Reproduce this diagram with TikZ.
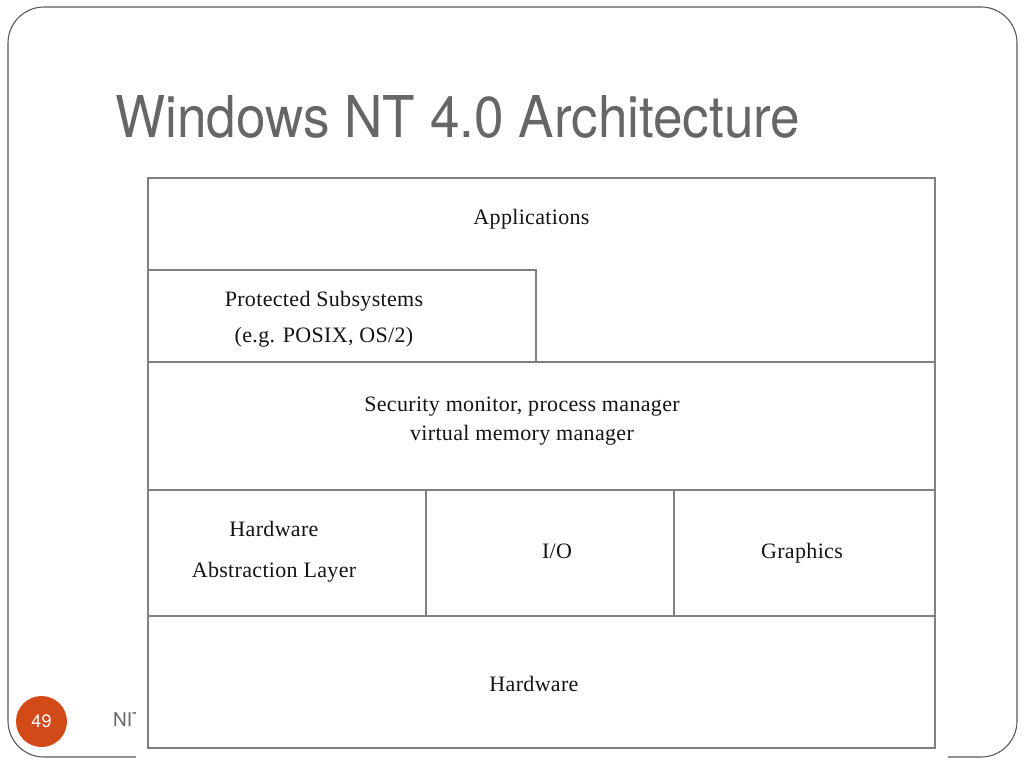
\documentclass[tikz,border=0pt]{standalone}
\usepackage{fontspec}
\usepackage{graphicx}
\usetikzlibrary{positioning}
\setmainfont{Liberation Serif}[LetterSpace=1.5]
\newfontfamily\slidefont{TeX Gyre Heros}
\definecolor{titlegray}{RGB}{102,102,102}
\definecolor{linegray}{RGB}{128,128,128}
\definecolor{slideorange}{RGB}{209,74,24}
\tikzset{
  frame/.style={draw=linegray, line width=1.8pt},
  txt/.style={anchor=base, inner sep=0pt, text=black!92, font=\fontsize{22}{26}\selectfont},
}
\begin{document}
\begin{tikzpicture}[x=1pt,y=-1pt]
\useasboundingbox (0,0) rectangle (1024,768);
% slide
\draw[draw=black!65, line width=1.1pt, rounded corners=36pt] (8,7) rectangle (1017,757);
\node[anchor=base west, inner sep=0pt, text=titlegray] (title) at (115,137)
  {\resizebox{685pt}{42pt}{\slidefont Windows NT 4.0 Architecture}};
\node[circle, fill=slideorange, minimum size=51pt, inner sep=0pt, text=white,
  font=\slidefont\fontsize{18}{20}\selectfont] (page) at (41.5,721.5) {49};
\node[anchor=base west, inner sep=0pt, text=titlegray,
  font=\slidefont\fontsize{19}{22}\selectfont] (foot) at (113,726) {NIT};
\fill[white] (136,168) rectangle (948,763);
% layers
\draw[frame] (148,178) rectangle (935,748);
\draw[frame] (148,270)--(536,270)--(536,362);
\draw[frame] (148,362)--(935,362);
\draw[frame] (148,490)--(935,490);
\draw[frame] (148,616)--(935,616);
\draw[frame] (426,490)--(426,616);
\draw[frame] (674,490)--(674,616);
% labels
\node[txt] (apps) at (531.5,224) {Applications};
\node[txt] (prot1) at (324,306) {Protected Subsystems};
\node[txt, below=36pt of prot1.base, anchor=base] (prot2) {(e.g. POSIX, OS/2)};
\node[txt] (secu1) at (522,411) {Security monitor, process manager};
\node[txt, below=29pt of secu1.base, anchor=base] (secu2) {virtual memory manager};
\node[txt] (hal1) at (274,536) {Hardware};
\node[txt, below=41pt of hal1.base, anchor=base] (hal2) {Abstraction Layer};
\node[txt] (io) at (557,558) {I/O};
\node[txt] (gfx) at (802,558) {Graphics};
\node[txt] (hw) at (534,691) {Hardware};
\end{tikzpicture}
\end{document}
